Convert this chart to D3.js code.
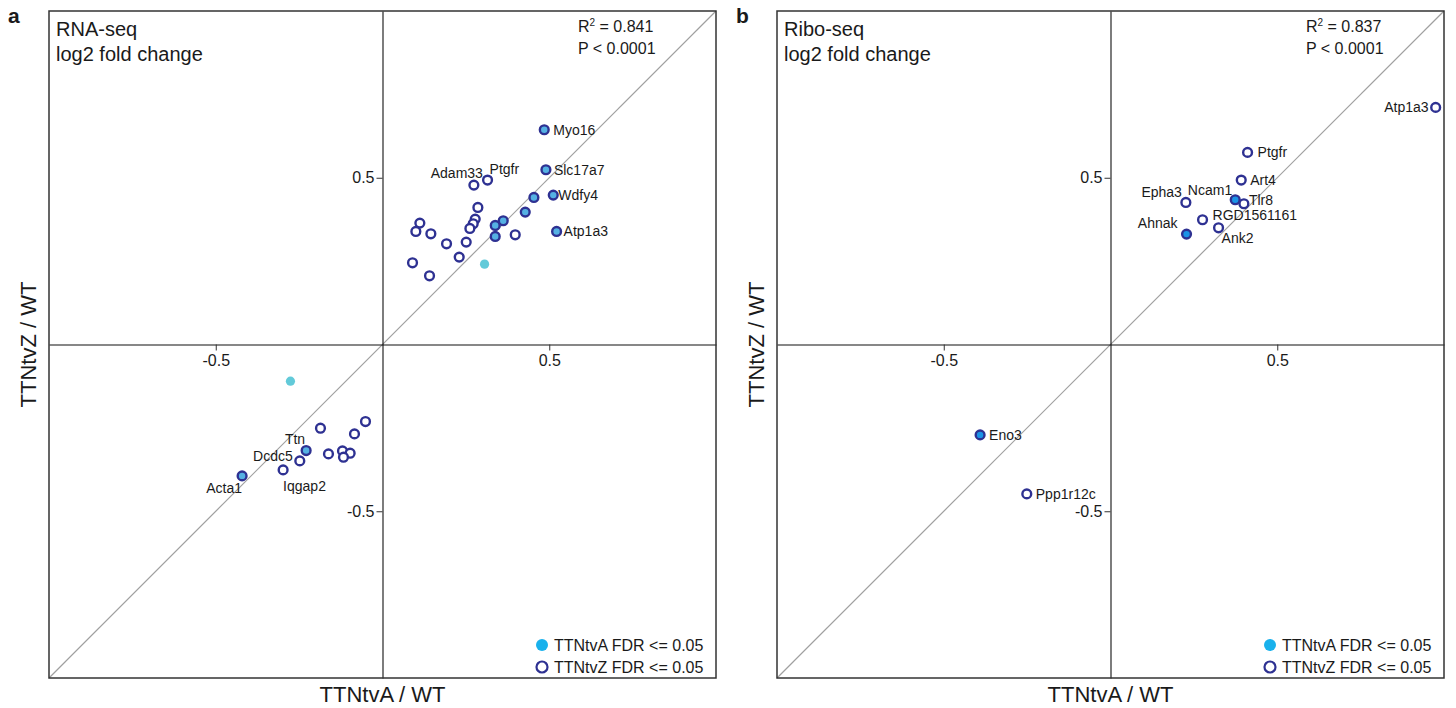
<!DOCTYPE html>
<html>
<head>
<meta charset="utf-8">
<script src="https://cdn.jsdelivr.net/npm/d3@7"></script>
<style>
  html, body { margin: 0; padding: 0; background: #fff; }
  svg text { font-family: "Liberation Sans", Arial, sans-serif; fill: #1a1a1a; }
</style>
</head>
<body>
<svg id="chart" width="1456" height="708"></svg>
<script>
// sig: "Z" = TTNtvZ only (open), "A" = TTNtvA only (cyan), "AZ" = both
const rnaPoints = [
  { x: 0.485, y: 0.644, sig: "AZ", gene: "Myo16" },
  { x: 0.490, y: 0.524, sig: "AZ", gene: "Slc17a7" },
  { x: 0.512, y: 0.448, sig: "AZ", gene: "Wdfy4" },
  { x: 0.522, y: 0.339, sig: "AZ", gene: "Atp1a3" },
  { x: 0.274, y: 0.478, sig: "Z", gene: "Adam33" },
  { x: 0.315, y: 0.493, sig: "Z", gene: "Ptgfr" },
  { x: 0.454, y: 0.441, sig: "AZ" },
  { x: 0.428, y: 0.397, sig: "AZ" },
  { x: 0.286, y: 0.411, sig: "Z" },
  { x: 0.278, y: 0.376, sig: "Z" },
  { x: 0.272, y: 0.362, sig: "Z" },
  { x: 0.262, y: 0.348, sig: "Z" },
  { x: 0.362, y: 0.371, sig: "AZ" },
  { x: 0.338, y: 0.357, sig: "AZ" },
  { x: 0.338, y: 0.324, sig: "AZ" },
  { x: 0.398, y: 0.329, sig: "Z" },
  { x: 0.112, y: 0.364, sig: "Z" },
  { x: 0.100, y: 0.339, sig: "Z" },
  { x: 0.145, y: 0.332, sig: "Z" },
  { x: 0.192, y: 0.302, sig: "Z" },
  { x: 0.251, y: 0.307, sig: "Z" },
  { x: 0.230, y: 0.262, sig: "Z" },
  { x: 0.306, y: 0.241, sig: "A" },
  { x: 0.090, y: 0.245, sig: "Z" },
  { x: 0.141, y: 0.206, sig: "Z" },
  { x: -0.276, y: -0.110, sig: "A" },
  { x: -0.051, y: -0.231, sig: "Z" },
  { x: -0.186, y: -0.251, sig: "Z" },
  { x: -0.084, y: -0.268, sig: "Z" },
  { x: -0.229, y: -0.318, sig: "AZ", gene: "Ttn" },
  { x: -0.162, y: -0.328, sig: "Z" },
  { x: -0.120, y: -0.319, sig: "Z" },
  { x: -0.097, y: -0.326, sig: "Z" },
  { x: -0.117, y: -0.338, sig: "Z" },
  { x: -0.248, y: -0.349, sig: "Z", gene: "Dcdc5" },
  { x: -0.298, y: -0.376, sig: "Z", gene: "Iqgap2" },
  { x: -0.421, y: -0.394, sig: "AZ", gene: "Acta1" }
];

const riboPoints = [
  { x: 0.975, y: 0.711, sig: "Z", gene: "Atp1a3" },
  { x: 0.411, y: 0.576, sig: "Z", gene: "Ptgfr" },
  { x: 0.392, y: 0.493, sig: "Z", gene: "Art4" },
  { x: 0.374, y: 0.434, sig: "AZ", gene: "Ncam1" },
  { x: 0.400, y: 0.422, sig: "Z", gene: "Tlr8" },
  { x: 0.226, y: 0.426, sig: "Z", gene: "Epha3" },
  { x: 0.276, y: 0.374, sig: "Z", gene: "RGD1561161" },
  { x: 0.324, y: 0.350, sig: "Z", gene: "Ank2" },
  { x: 0.228, y: 0.331, sig: "AZ", gene: "Ahnak" },
  { x: -0.391, y: -0.271, sig: "AZ", gene: "Eno3" },
  { x: -0.251, y: -0.448, sig: "Z", gene: "Ppp1r12c" }
];

const tickValues = [-0.5, 0.5];
const tickLabels = ["-0.5", "0.5"];
const legendLabels = ["TTNtvA FDR <= 0.05", "TTNtvZ FDR <= 0.05"];
const rnaStats = ["0.841", "P < 0.0001"];
const riboStats = ["0.837", "P < 0.0001"];

// label placement (pixel offsets from the point)
const rnaLabelPos = {
  Myo16: [9, 0, "start"], Slc17a7: [8, 0, "start"], Wdfy4: [5, 0, "start"],
  Atp1a3: [7, 0, "start"], Adam33: [9, -12, "end"], Ptgfr: [2, -11, "start"],
  Ttn: [-1, -12, "end"], Dcdc5: [-7, -5, "end"], Iqgap2: [0, 16, "start"],
  Acta1: [0, 12, "end"]
};
const riboLabelPos = {
  Atp1a3: [-7, 0, "end"], Ptgfr: [10, 0, "start"], Art4: [9, 0, "start"],
  Ncam1: [-3, -10, "end"], Tlr8: [5, -4, "start"], Epha3: [-4, -10, "end"],
  RGD1561161: [10, -5, "start"], Ank2: [3, 10, "start"], Ahnak: [-9, -11, "end"],
  Eno3: [9, 0, "start"], Ppp1r12c: [9, 0, "start"]
};

const svg = d3.select("#chart");
const NAVY = "#2e3192";

function drawPanel(opt) {
  const x = d3.scaleLinear().domain([-1, 1]).range([opt.left, opt.left + 667]);
  const y = d3.scaleLinear().domain([-1, 1]).range([678, 11]);
  const g = svg.append("g");

  // panel letter
  g.append("text").attr("x", opt.left - 41).attr("y", 23)
    .style("font-weight", 700).style("font-size", "21px").text(opt.letter);

  // diagonal
  g.append("line")
    .attr("x1", x(-1)).attr("y1", y(-1)).attr("x2", x(1)).attr("y2", y(1))
    .attr("stroke", "#a0a0a0").attr("stroke-width", 1.2);

  // zero axes with ticks
  const yAxis = g.append("g").attr("transform", `translate(${x(0)},0)`)
    .call(d3.axisLeft(y).tickValues(tickValues).tickSize(6).tickSizeOuter(0).tickPadding(2)
      .tickFormat((d, i) => tickLabels[i]));
  const xAxis = g.append("g").attr("transform", `translate(0,${y(0)})`)
    .call(d3.axisBottom(x).tickValues(tickValues).tickSize(6).tickSizeOuter(0).tickPadding(4)
      .tickFormat((d, i) => tickLabels[i]));
  [yAxis, xAxis].forEach(a => {
    a.select(".domain").attr("stroke", "#111").attr("stroke-width", 1.1);
    a.selectAll(".tick line").attr("stroke", "#333");
    a.selectAll("text").attr("font-family", null).style("font-size", "16px").attr("fill", "#1a1a1a");
  });

  // frame
  g.append("rect").attr("x", x(-1)).attr("y", y(1))
    .attr("width", x(1) - x(-1)).attr("height", y(-1) - y(1))
    .attr("fill", "none").attr("stroke", "#333").attr("stroke-width", 1.5);

  // titles
  g.append("text").attr("x", x(-1) + 7).attr("y", 36).style("font-size", "20px").text(opt.title);
  g.append("text").attr("x", x(-1) + 7).attr("y", 61).style("font-size", "20px").text("log2 fold change");

  const st = g.append("text").attr("x", x(1) - 138).attr("y", 32).style("font-size", "16px");
  st.append("tspan").text("R");
  st.append("tspan").attr("dy", -6).style("font-size", "10px").text("2");
  st.append("tspan").attr("dy", 6).text(" = " + opt.stats[0]);
  g.append("text").attr("x", x(1) - 138).attr("y", 54).style("font-size", "16px").text(opt.stats[1]);

  // axis titles
  g.append("text").attr("x", x(0)).attr("y", 702).attr("text-anchor", "middle")
    .style("font-size", "22px").text("TTNtvA / WT");
  g.append("text").attr("transform", `translate(${x(-1) - 13},${y(0)}) rotate(-90)`)
    .attr("text-anchor", "middle").style("font-size", "22px").text("TTNtvZ / WT");

  // points
  g.append("g").selectAll("circle").data(opt.points).join("circle")
    .attr("cx", d => x(d.x)).attr("cy", d => y(d.y))
    .attr("r", d => d.sig === "A" ? 4.6 : 4.4)
    .attr("fill", d => d.sig === "A" ? "#62cad9" : d.sig === "AZ" ? opt.bothFill : "#fff")
    .attr("stroke", d => d.sig === "A" ? "none" : NAVY)
    .attr("stroke-width", 2.4);

  // gene labels
  g.append("g").selectAll("text").data(opt.points.filter(d => d.gene)).join("text")
    .attr("x", d => x(d.x) + opt.labelPos[d.gene][0])
    .attr("y", d => y(d.y) + opt.labelPos[d.gene][1])
    .attr("text-anchor", d => opt.labelPos[d.gene][2])
    .attr("dominant-baseline", "central")
    .style("font-size", "14px")
    .text(d => d.gene);

  // legend
  const lx = x(1) - 174;
  const leg = g.append("g");
  leg.append("circle").attr("cx", lx).attr("cy", 645).attr("r", 6).attr("fill", "#19b1ec");
  leg.append("circle").attr("cx", lx).attr("cy", 667).attr("r", 5.5).attr("fill", "#fff")
    .attr("stroke", NAVY).attr("stroke-width", 2.2);
  legendLabels.forEach((t, i) => {
    leg.append("text").attr("x", lx + 12).attr("y", 645 + i * 22)
      .attr("dominant-baseline", "central").style("font-size", "16px").text(t);
  });
}

drawPanel({ left: 49, letter: "a", title: "RNA-seq", stats: rnaStats, points: rnaPoints,
  labelPos: rnaLabelPos, bothFill: "#55b1e3" });
drawPanel({ left: 777, letter: "b", title: "Ribo-seq", stats: riboStats, points: riboPoints,
  labelPos: riboLabelPos, bothFill: "#1b93e6" });
</script>
</body>
</html>
